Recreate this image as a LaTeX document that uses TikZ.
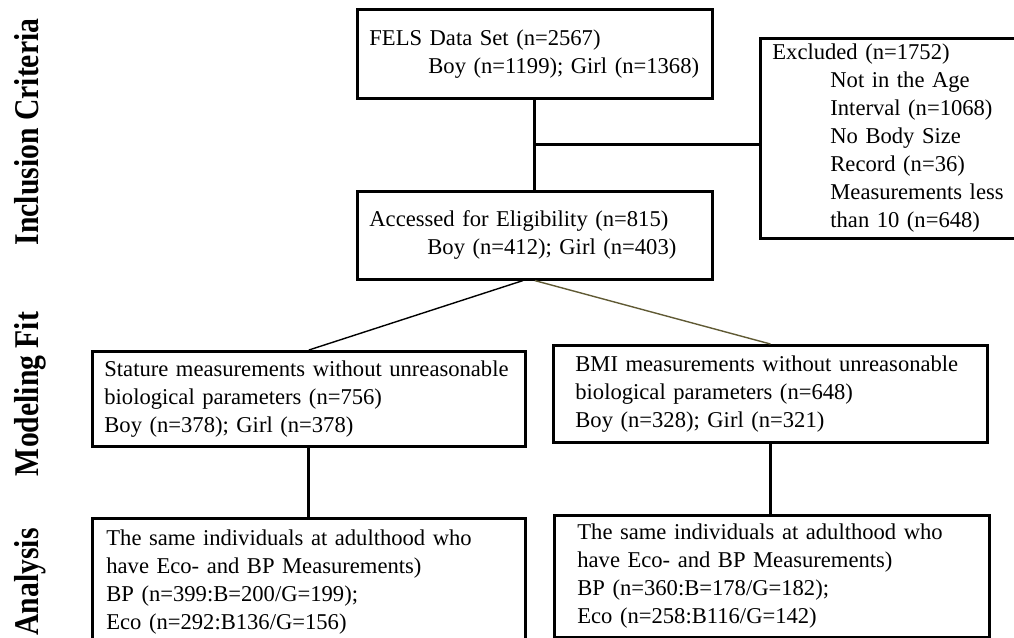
\documentclass[tikz,border=0pt]{standalone}
\usepackage{fontspec}
\setmainfont{Liberation Serif}
\usepackage{graphicx}
\usetikzlibrary{positioning,calc}

\definecolor{olivegray}{RGB}{96,90,52}
\newcommand{\boxfont}{\fontsize{11.3pt}{14pt}\selectfont}
\newcommand{\sidefont}{\fontsize{17.35pt}{20pt}\selectfont\bfseries}
\newcommand{\ind}{\hspace*{29pt}}

\begin{document}
\begin{tikzpicture}[
    x=0.5pt, y=-0.5pt,
    box/.style={draw, line width=1.4pt, inner xsep=6pt, inner ysep=0pt, align=left, anchor=north west, font=\boxfont},
    link/.style={draw, line width=1.5pt},
    slant/.style={draw, line width=0.7pt},
    stage/.style={rotate=90, anchor=base, inner sep=0pt, font=\sidefont}
]
    \useasboundingbox (0,0) rectangle (1014,638);
    \clip (0,0) rectangle (1014,638);

    % stage labels on the left
    \node[stage] (incl) at (39,132) {\scalebox{0.855}[1]{Inclusion Criteria}};
    \node[stage] (model) at (39,394) {\scalebox{0.855}[1]{Modeling Fit}};
    \node[stage] (anal) at (39,582) {\scalebox{0.855}[1]{Analysis}};

    % boxes
    \node[box, text width=165.5pt, minimum height=44.5pt] (fels) at (356,8)
        {FELS Data Set (n=2567)\\\hspace*{29.5pt}Boy (n=1199); Girl (n=1368)};
    \node[box, text width=165.5pt, minimum height=44pt, below=45pt of fels.south west, anchor=north west] (elig)
        {Accessed for Eligibility (n=815)\\\ind Boy (n=412); Girl (n=403)};
    \node[box, text width=135pt, minimum height=100pt] (excl) at (759,37)
        {Excluded (n=1752)\\\ind Not in the Age\\\ind Interval (n=1068)\\\ind No Body Size\\\ind Record (n=36)\\\ind Measurements less\\\ind than 10 (n=648)};
    \node[box, text width=204.5pt, minimum height=47.5pt] (stat) at (91,350)
        {Stature measurements without unreasonable\\biological parameters (n=756)\\Boy (n=378); Girl (n=378)};
    \node[box, inner xsep=11pt, text width=195pt, minimum height=48.5pt] (bmi) at (552,344)
        {BMI measurements without unreasonable\\biological parameters (n=648)\\Boy (n=328); Girl (n=321)};
    \node[box, inner xsep=7pt, text width=202.5pt, minimum height=64pt] (anaL) at (91,517)
        {The same individuals at adulthood who\\have Eco- and BP Measurements)\\BP (n=399:B=200/G=199);\\Eco (n=292:B136/G=156)};
    \node[box, inner xsep=11.5pt, text width=194.5pt, minimum height=61pt] (anaR) at (553,514)
        {The same individuals at adulthood who\\have Eco- and BP Measurements)\\BP (n=360:B=178/G=182);\\Eco (n=258:B116/G=142)};

    % connectors
    \coordinate (split) at ($(fels.south)!0.5!(elig.north)$);
    \draw[link] (fels.south) -- (elig.north);
    \draw[link] (split) -- (split -| excl.west);
    \draw[slant] ([xshift=-6pt]elig.south) -- (stat.north);
    \draw[slant, olivegray] (elig.south) -- (bmi.north);
    \draw[link] (stat.south) -- (anaL.north);
    \draw[link] (bmi.south) -- (bmi.south |- anaR.north);
\end{tikzpicture}
\end{document}
